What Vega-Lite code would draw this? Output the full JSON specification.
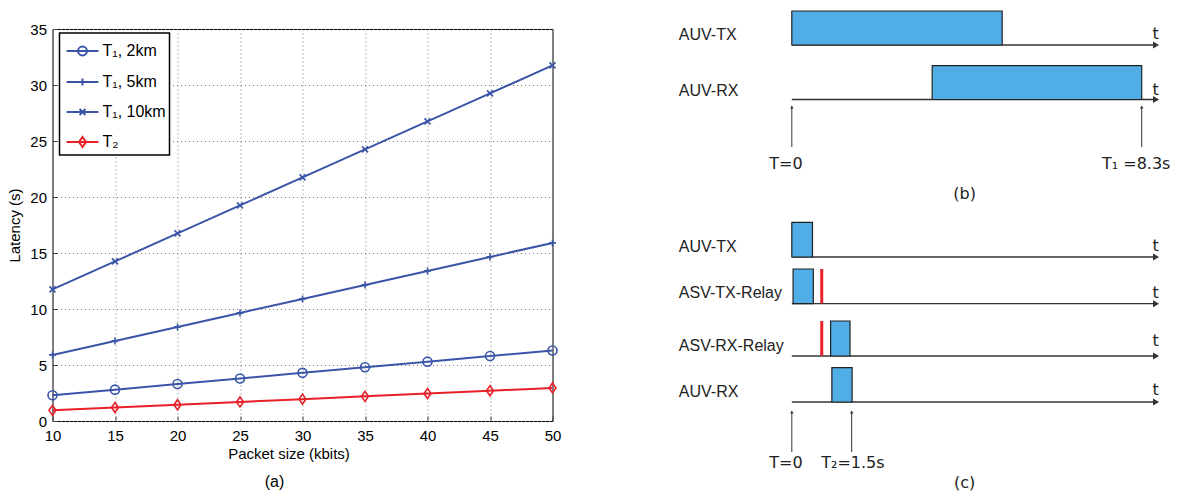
{
  "$schema": "https://vega.github.io/schema/vega-lite/v6.json",
  "padding": {"left": 6.5, "top": 10, "right": 5, "bottom": 0},
  "background": "white",
  "spacing": 116.5,
  "config": {
    "view": {"stroke": null},
    "font": "Liberation Sans",
    "axis": {"labelFont": "Liberation Sans", "titleFont": "Liberation Sans", "labelColor": "black", "titleColor": "black", "titleFontWeight": "normal", "tickColor": "#444", "labelFlush": false}
  },
  "datasets": {
    "lat": [
      {"x": 10, "v": 2.3, "s": "T₁, 2km"}, {"x": 15, "v": 2.8, "s": "T₁, 2km"}, {"x": 20, "v": 3.3, "s": "T₁, 2km"}, {"x": 25, "v": 3.8, "s": "T₁, 2km"}, {"x": 30, "v": 4.3, "s": "T₁, 2km"}, {"x": 35, "v": 4.8, "s": "T₁, 2km"}, {"x": 40, "v": 5.3, "s": "T₁, 2km"}, {"x": 45, "v": 5.8, "s": "T₁, 2km"}, {"x": 50, "v": 6.3, "s": "T₁, 2km"},
      {"x": 10, "v": 5.9, "s": "T₁, 5km"}, {"x": 15, "v": 7.15, "s": "T₁, 5km"}, {"x": 20, "v": 8.4, "s": "T₁, 5km"}, {"x": 25, "v": 9.65, "s": "T₁, 5km"}, {"x": 30, "v": 10.9, "s": "T₁, 5km"}, {"x": 35, "v": 12.15, "s": "T₁, 5km"}, {"x": 40, "v": 13.4, "s": "T₁, 5km"}, {"x": 45, "v": 14.65, "s": "T₁, 5km"}, {"x": 50, "v": 15.9, "s": "T₁, 5km"},
      {"x": 10, "v": 11.75, "s": "T₁, 10km"}, {"x": 15, "v": 14.25, "s": "T₁, 10km"}, {"x": 20, "v": 16.75, "s": "T₁, 10km"}, {"x": 25, "v": 19.25, "s": "T₁, 10km"}, {"x": 30, "v": 21.75, "s": "T₁, 10km"}, {"x": 35, "v": 24.25, "s": "T₁, 10km"}, {"x": 40, "v": 26.75, "s": "T₁, 10km"}, {"x": 45, "v": 29.25, "s": "T₁, 10km"}, {"x": 50, "v": 31.75, "s": "T₁, 10km"},
      {"x": 10, "v": 0.95, "s": "T₂"}, {"x": 15, "v": 1.2, "s": "T₂"}, {"x": 20, "v": 1.45, "s": "T₂"}, {"x": 25, "v": 1.7, "s": "T₂"}, {"x": 30, "v": 1.95, "s": "T₂"}, {"x": 35, "v": 2.2, "s": "T₂"}, {"x": 40, "v": 2.45, "s": "T₂"}, {"x": 45, "v": 2.7, "s": "T₂"}, {"x": 50, "v": 2.95, "s": "T₂"}
    ],
    "laneAxes": [
      {"x1": 0, "x2": 8.64, "y": 1.6}, {"x1": 0, "x2": 8.64, "y": 7.05},
      {"x1": 0, "x2": 8.64, "y": 22.8}, {"x1": 0, "x2": 8.64, "y": 27.47},
      {"x1": 0, "x2": 8.64, "y": 32.7}, {"x1": 0, "x2": 8.64, "y": 37.3}
    ],
    "bars": [
      {"x1": 0, "x2": 4.99, "y1": -1.8, "y2": 1.6},
      {"x1": 3.33, "x2": 8.3, "y1": 3.67, "y2": 7.05},
      {"x1": 0, "x2": 0.49, "y1": 19.33, "y2": 22.8},
      {"x1": 0.03, "x2": 0.51, "y1": 24.0, "y2": 27.47},
      {"x1": 0.92, "x2": 1.38, "y1": 29.2, "y2": 32.7},
      {"x1": 0.95, "x2": 1.43, "y1": 33.87, "y2": 37.3}
    ],
    "red": [
      {"x": 0.71, "y1": 24.0, "y2": 27.43},
      {"x": 0.71, "y1": 29.2, "y2": 32.67}
    ],
    "ups": [
      {"x": 0, "y1": 11.8, "y2": 7.8}, {"x": 8.3, "y1": 11.8, "y2": 7.8},
      {"x": 0, "y1": 42.3, "y2": 38.3}, {"x": 1.42, "y1": 42.3, "y2": 38.3}
    ],
    "laneLabels": [
      {"x": -2.68, "y": 0.63, "t": "AUV-TX"}, {"x": -2.68, "y": 6.18, "t": "AUV-RX"},
      {"x": -2.68, "y": 21.77, "t": "AUV-TX"}, {"x": -2.68, "y": 26.43, "t": "ASV-TX-Relay"},
      {"x": -2.68, "y": 31.7, "t": "ASV-RX-Relay"}, {"x": -2.68, "y": 36.27, "t": "AUV-RX"}
    ],
    "centerLabels": [
      {"x": 8.63, "y": 0.45, "t": "t"}, {"x": 8.63, "y": 6.1, "t": "t"},
      {"x": 8.63, "y": 21.68, "t": "t"}, {"x": 8.63, "y": 26.4, "t": "t"},
      {"x": 8.63, "y": 31.2, "t": "t"}, {"x": 8.63, "y": 36.1, "t": "t"},
      {"x": -0.14, "y": 13.47, "t": "T=0"}, {"x": 8.17, "y": 13.47, "t": "T₁ =8.3s"},
      {"x": -0.14, "y": 43.43, "t": "T=0"}, {"x": 1.45, "y": 43.43, "t": "T₂=1.5s"},
      {"x": 4.1, "y": 16.5, "t": "(b)"}, {"x": 4.1, "y": 45.4, "t": "(c)"}
    ]
  },
  "hconcat": [
    {
      "width": 500,
      "height": 392,
      "view": {"stroke": "black", "strokeWidth": 1},
      "title": {"text": "(a)", "orient": "bottom", "anchor": "middle", "dx": -28, "offset": 13, "fontSize": 16, "fontWeight": "normal", "font": "Liberation Sans", "color": "black"},
      "data": {"name": "lat"},
      "encoding": {
        "x": {"field": "x", "type": "quantitative", "scale": {"domain": [10, 50], "nice": false, "zero": false},
          "axis": {"values": [10, 15, 20, 25, 30, 35, 40, 45, 50], "title": "Packet size (kbits)", "titleFontSize": 15, "labelFontSize": 15, "labelFlush": false, "domain": false, "tickSize": -5, "labelPadding": 12, "titlePadding": 3, "titleX": 236, "grid": true, "gridDash": [1, 3], "gridColor": "#777"}},
        "y": {"field": "v", "type": "quantitative", "scale": {"domain": [0, 35], "nice": false, "zero": false},
          "axis": {"values": [0, 5, 10, 15, 20, 25, 30, 35], "title": "Latency (s)", "titleFontSize": 15, "labelFontSize": 15, "labelFlush": false, "domain": false, "tickSize": -5, "labelPadding": 11, "titlePadding": 7, "grid": true, "gridDash": [1, 3], "gridColor": "#777"}},
        "color": {"field": "s", "type": "nominal", "scale": {"domain": ["T₁, 2km", "T₁, 5km", "T₁, 10km", "T₂"], "range": ["#3A55A8", "#3A55A8", "#3A55A8", "#E8202A"]},
          "legend": {"title": null, "orient": "none", "legendX": 7, "legendY": 4, "padding": 3, "symbolOffset": 5, "labelOffset": 5, "rowPadding": 7, "symbolSize": 784, "symbolStrokeWidth": 2, "symbolType": "M-1.14,0L1.14,0", "labelFontSize": 16, "labelFont": "Liberation Sans", "labelColor": "black", "strokeColor": "black", "fillColor": "white",
            "encode": {
              "legend": {"update": {"strokeWidth": {"value": 1.5}}},
              "symbols": {"update": {
                "fill": {"value": "transparent"},
                "shape": {"signal": "datum.value == 'T₁, 2km' ? 'M-1.14,0L1.14,0M0.32,0A0.32,0.32,0,1,1,-0.32,0A0.32,0.32,0,1,1,0.32,0Z' : datum.value == 'T₁, 5km' ? 'M-1.14,0L1.14,0M0,-0.25L0,0.25' : datum.value == 'T₁, 10km' ? 'M-1.14,0L1.14,0M-0.21,-0.21L0.21,0.21M-0.21,0.21L0.21,-0.21' : 'M-1.14,0L1.14,0M0,-0.36L0.25,0L0,0.36L-0.25,0Z'"}
              }}
            }}}
      },
      "layer": [
        {"mark": {"type": "line", "strokeWidth": 2}},
        {"transform": [{"filter": {"field": "s", "equal": "T₁, 2km"}}],
         "mark": {"type": "point", "filled": false, "strokeWidth": 1.6, "opacity": 1, "size": 100, "shape": "M0.9,0A0.9,0.9,0,1,1,-0.9,0A0.9,0.9,0,1,1,0.9,0Z"}},
        {"transform": [{"filter": {"field": "s", "equal": "T₁, 5km"}}],
         "mark": {"type": "point", "filled": false, "strokeWidth": 1.6, "opacity": 1, "size": 100, "shape": "M-0.7,0L0.7,0M0,-0.7L0,0.7"}},
        {"transform": [{"filter": {"field": "s", "equal": "T₁, 10km"}}],
         "mark": {"type": "point", "filled": false, "strokeWidth": 1.6, "opacity": 1, "size": 100, "shape": "M-0.6,-0.6L0.6,0.6M-0.6,0.6L0.6,-0.6"}},
        {"transform": [{"filter": {"field": "s", "equal": "T₂"}}],
         "mark": {"type": "point", "filled": false, "strokeWidth": 1.6, "opacity": 1, "size": 100, "shape": "M0,-1L0.7,0L0,1L-0.7,0Z"}}
      ]
    },
    {
      "width": 489,
      "height": 461,
      "layer": [
        {
          "data": {"name": "laneAxes"},
          "mark": {"type": "rule", "stroke": "#333", "strokeWidth": 1.3},
          "encoding": {
            "x": {"field": "x1", "type": "quantitative", "scale": {"domain": [-2.7, 8.9], "nice": false, "zero": false}, "axis": null},
            "x2": {"field": "x2"},
            "y": {"field": "y", "type": "quantitative", "scale": {"domain": [0, 46.1], "reverse": true, "nice": false, "zero": false}, "axis": null}
          }
        },
        {
          "data": {"name": "laneAxes"},
          "mark": {"type": "point", "shape": "triangle-right", "filled": true, "color": "#333", "size": 49, "opacity": 1},
          "encoding": {
            "x": {"field": "x2", "type": "quantitative", "scale": {"domain": [-2.7, 8.9], "nice": false, "zero": false}, "axis": null},
            "y": {"field": "y", "type": "quantitative", "scale": {"domain": [0, 46.1], "reverse": true, "nice": false, "zero": false}, "axis": null}
          }
        },
        {
          "data": {"name": "bars"},
          "mark": {"type": "rect", "fill": "#50ADE5", "stroke": "#222", "strokeWidth": 1.2},
          "encoding": {
            "x": {"field": "x1", "type": "quantitative", "scale": {"domain": [-2.7, 8.9], "nice": false, "zero": false}, "axis": null},
            "x2": {"field": "x2"},
            "y": {"field": "y1", "type": "quantitative", "scale": {"domain": [0, 46.1], "reverse": true, "nice": false, "zero": false}, "axis": null},
            "y2": {"field": "y2"}
          }
        },
        {
          "data": {"name": "red"},
          "mark": {"type": "rule", "stroke": "#E8202A", "strokeWidth": 3},
          "encoding": {
            "x": {"field": "x", "type": "quantitative", "scale": {"domain": [-2.7, 8.9], "nice": false, "zero": false}, "axis": null},
            "y": {"field": "y1", "type": "quantitative", "scale": {"domain": [0, 46.1], "reverse": true, "nice": false, "zero": false}, "axis": null},
            "y2": {"field": "y2"}
          }
        },
        {
          "data": {"name": "ups"},
          "mark": {"type": "rule", "stroke": "#333", "strokeWidth": 1},
          "encoding": {
            "x": {"field": "x", "type": "quantitative", "scale": {"domain": [-2.7, 8.9], "nice": false, "zero": false}, "axis": null},
            "y": {"field": "y1", "type": "quantitative", "scale": {"domain": [0, 46.1], "reverse": true, "nice": false, "zero": false}, "axis": null},
            "y2": {"field": "y2"}
          }
        },
        {
          "data": {"name": "ups"},
          "mark": {"type": "point", "shape": "triangle-up", "filled": true, "color": "#333", "size": 12, "opacity": 1},
          "encoding": {
            "x": {"field": "x", "type": "quantitative", "scale": {"domain": [-2.7, 8.9], "nice": false, "zero": false}, "axis": null},
            "y": {"field": "y2", "type": "quantitative", "scale": {"domain": [0, 46.1], "reverse": true, "nice": false, "zero": false}, "axis": null}
          }
        },
        {
          "data": {"name": "laneLabels"},
          "mark": {"type": "text", "align": "left", "baseline": "middle", "fontSize": 16, "font": "Liberation Sans", "color": "#222"},
          "encoding": {
            "x": {"field": "x", "type": "quantitative", "scale": {"domain": [-2.7, 8.9], "nice": false, "zero": false}, "axis": null},
            "y": {"field": "y", "type": "quantitative", "scale": {"domain": [0, 46.1], "reverse": true, "nice": false, "zero": false}, "axis": null},
            "text": {"field": "t"}
          }
        },
        {
          "data": {"name": "centerLabels"},
          "mark": {"type": "text", "align": "center", "baseline": "middle", "fontSize": 16, "font": "DejaVu Sans", "color": "#222"},
          "encoding": {
            "x": {"field": "x", "type": "quantitative", "scale": {"domain": [-2.7, 8.9], "nice": false, "zero": false}, "axis": null},
            "y": {"field": "y", "type": "quantitative", "scale": {"domain": [0, 46.1], "reverse": true, "nice": false, "zero": false}, "axis": null},
            "text": {"field": "t"}
          }
        }
      ]
    }
  ]
}
